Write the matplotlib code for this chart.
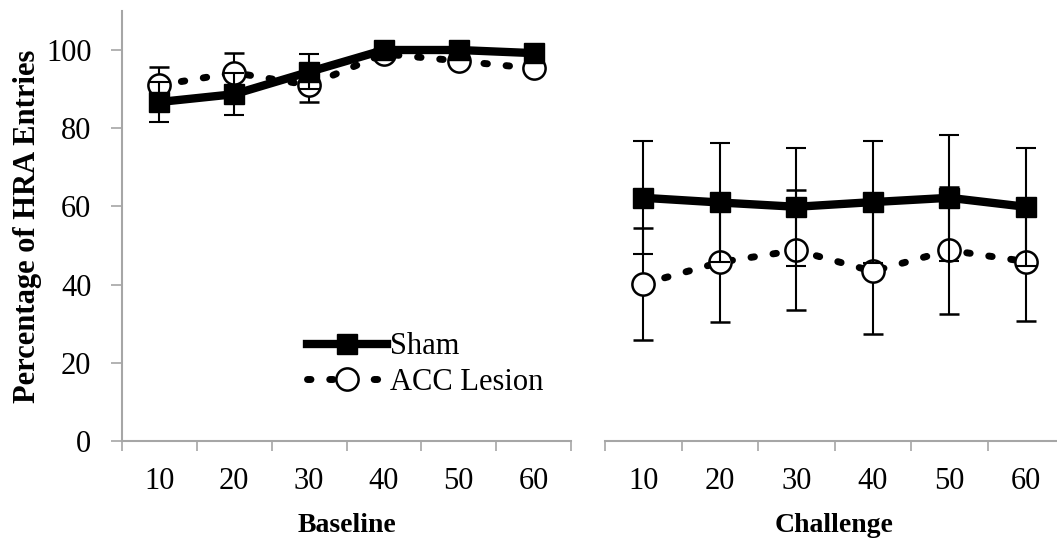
import numpy as np
import matplotlib.pyplot as plt

plt.rcParams['font.family'] = ['Liberation Serif', 'DejaVu Serif']

# 时间点
minutes = ["10", "20", "30", "40", "50", "60"]

# Baseline
base_sham = [86.7, 88.7, 94.4, 100, 100, 99.2]
base_sham_se = [5.0, 5.4, 4.5, 1.0, 1.0, 1.0]
base_acc = [91.0, 94.2, 91.0, 99.0, 97.2, 95.3]
base_acc_se = [4.7, 5.0, 4.3, 1.0, 1.0, 1.0]

# Challenge
chal_sham = [62.2, 61.0, 59.9, 61.1, 62.2, 59.9]
chal_sham_se = [14.5, 15.1, 15.1, 15.7, 16.1, 15.1]
chal_acc = [40.2, 45.7, 48.8, 43.4, 48.8, 45.9]
chal_acc_se = [14.4, 15.3, 15.3, 16.0, 16.2, 15.1]

W, H = 1057, 541
fig = plt.figure(figsize=(W / 100, H / 100), dpi=100)

# 两个面板（像素坐标换算）
y0, y1 = 441, 50
ax1 = fig.add_axes([122 / W, (H - y0) / H, (571 - 122) / W, (y0 - y1) / H * 1.1])
ax2 = fig.add_axes([605 / W, (H - y0) / H, (1064 - 605) / W, (y0 - y1) / H * 1.1])

x = np.arange(len(minutes))
grey = '#a6a6a6'


def draw_panel(ax, sham, sham_se, acc, acc_se, xlabel):
    ax.errorbar(x, acc, yerr=acc_se, color='black', linestyle=(0, (0.5, 2.7)), linewidth=5,
                dash_capstyle='round', marker='o', markersize=16, markerfacecolor='white',
                markeredgecolor='black', markeredgewidth=1.8, elinewidth=1.5, capsize=7,
                capthick=1.5, ecolor='black', label='ACC Lesion', zorder=3)
    ax.errorbar(x, sham, yerr=sham_se, color='black', linestyle='-', linewidth=6,
                marker='s', markersize=15, markerfacecolor='black', markeredgecolor='black',
                elinewidth=1.5, capsize=7, capthick=1.5, ecolor='black', label='Sham', zorder=4)
    ax.set_xlim(-0.5, len(minutes) - 0.5)
    ax.set_ylim(0, 110)
    ax.set_xticks(x)
    ax.set_xticklabels(minutes, fontsize=22)
    ax.set_xticks(np.arange(len(minutes) + 1) - 0.5, minor=True)
    ax.tick_params(axis='x', which='major', length=0, pad=19)
    ax.tick_params(axis='x', which='minor', length=7, color=grey, width=1.2)
    ax.set_xlabel(xlabel, fontsize=20, fontweight='bold', labelpad=12)
    for s in ['top', 'right']:
        ax.spines[s].set_visible(False)
    ax.spines['bottom'].set_color(grey)
    ax.spines['bottom'].set_linewidth(1.5)


draw_panel(ax1, base_sham, base_sham_se, base_acc, base_acc_se, 'Baseline')
draw_panel(ax2, chal_sham, chal_sham_se, chal_acc, chal_acc_se, 'Challenge')

ax1.set_yticks([0, 20, 40, 60, 80, 100])
ax1.tick_params(axis='y', labelsize=22, length=8, color=grey, width=1.2, pad=14)
ax1.spines['left'].set_color(grey)
ax1.spines['left'].set_linewidth(1.5)
ax1.set_ylabel('Percentage of HRA Entries', fontsize=22, fontweight='bold', labelpad=3)

ax2.spines['left'].set_visible(False)
ax2.set_yticks([])

handles, labels = ax1.get_legend_handles_labels()
handles = [h[0] for h in handles]
ax1.legend(handles[::-1], labels[::-1], loc='lower left', bbox_to_anchor=(0.385, 0.075),
           frameon=False, fontsize=22, handlelength=2.6, handletextpad=0.1,
           labelspacing=0.2, borderaxespad=0)

fig.savefig('out.png', dpi=100)
